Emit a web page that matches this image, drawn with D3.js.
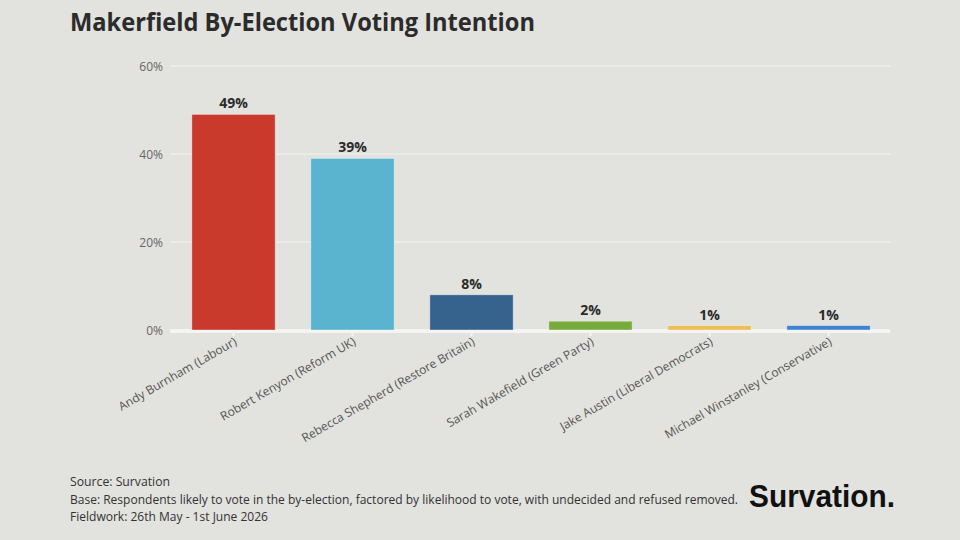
<!DOCTYPE html>
<html>
<head>
<meta charset="utf-8">
<script src="https://cdn.jsdelivr.net/npm/d3@7"></script>
<style>
  body { margin: 0; background: #e2e2de; }
  svg { display: block; }
</style>
</head>
<body>
<svg id="chart"></svg>
<script>
const WIDTH = 960;
const HEIGHT = 540;
const BG = "#e2e2de";

const candidates = [
  "Andy Burnham (Labour)",
  "Robert Kenyon (Reform UK)",
  "Rebecca Shepherd (Restore Britain)",
  "Sarah Wakefield (Green Party)",
  "Jake Austin (Liberal Democrats)",
  "Michael Winstanley (Conservative)"
];
const shares = [49, 39, 8, 2, 1, 1];
const partyColours = ["#c9392c", "#5ab4cf", "#35638e", "#79ab3c", "#efbd55", "#3f84d1"];
const yTicks = [0, 20, 40, 60];
const footerLines = [
  "Source: Survation",
  "Base: Respondents likely to vote in the by-election, factored by likelihood to vote, with undecided and refused removed.",
  "Fieldwork: 26th May - 1st June 2026"
];

const FONT = "'Open Sans', 'Noto Sans', sans-serif";

var svg = d3.select("#chart").attr("width", WIDTH).attr("height", HEIGHT);
svg.append("rect").attr("width", WIDTH).attr("height", HEIGHT).attr("fill", BG);

// title
svg.append("text")
  .attr("x", 70)
  .attr("y", 31)
  .attr("font-family", FONT)
  .attr("font-weight", 700)
  .attr("font-size", 25)
  .attr("fill", "#2b2b2b")
  .attr("textLength", 465)
  .attr("lengthAdjust", "spacingAndGlyphs")
  .text("Makerfield By-Election Voting Intention");

var x = d3.scaleBand()
  .domain(candidates)
  .range([174, 888])
  .paddingInner(0.3)
  .paddingOuter(0.15);

var y = d3.scaleLinear().domain([0, 60]).range([330, 66]);

// gridlines
svg.append("g")
  .selectAll("line")
  .data(yTicks.filter((d) => d > 0))
  .enter()
  .append("line")
  .attr("x1", 170)
  .attr("x2", 890)
  .attr("y1", (d) => y(d))
  .attr("y2", (d) => y(d))
  .attr("stroke", "#f2f2ef")
  .attr("stroke-width", 1);

// y tick labels
svg.append("g")
  .selectAll("text")
  .data(yTicks)
  .enter()
  .append("text")
  .attr("x", 163)
  .attr("y", (d) => y(d) + 1)
  .attr("dy", "0.35em")
  .attr("text-anchor", "end")
  .attr("font-family", FONT)
  .attr("font-size", 12)
  .attr("fill", "#666")
  .text((d) => d + "%");

// baseline
svg.append("line")
  .attr("x1", 170)
  .attr("x2", 890)
  .attr("y1", y(0) + 1)
  .attr("y2", y(0) + 1)
  .attr("stroke", "#f4f4f2")
  .attr("stroke-width", 4);

// x ticks
svg.append("g")
  .selectAll("line")
  .data(candidates)
  .enter()
  .append("line")
  .attr("x1", (d) => x(d) + x.bandwidth() / 2)
  .attr("x2", (d) => x(d) + x.bandwidth() / 2)
  .attr("y1", y(0) + 3)
  .attr("y2", y(0) + 6)
  .attr("stroke", "#f4f4f2")
  .attr("stroke-width", 2);

// bars
svg.append("g")
  .selectAll("rect")
  .data(candidates)
  .enter()
  .append("rect")
  .attr("x", (d) => x(d))
  .attr("y", (d, i) => y(shares[i]))
  .attr("width", x.bandwidth())
  .attr("height", (d, i) => y(0) - y(shares[i]))
  .attr("fill", (d, i) => partyColours[i])
  .attr("stroke", "rgba(255,255,255,0.45)")
  .attr("stroke-width", 0.8);

// value labels
svg.append("g")
  .selectAll("text")
  .data(candidates)
  .enter()
  .append("text")
  .attr("x", (d) => x(d) + x.bandwidth() / 2)
  .attr("y", (d, i) => y(shares[i]) - 6)
  .attr("text-anchor", "middle")
  .attr("font-family", FONT)
  .attr("font-weight", 700)
  .attr("font-size", 14)
  .attr("fill", "#2b2b2b")
  .text((d, i) => shares[i] + "%");

// x labels, rotated
svg.append("g")
  .selectAll("text")
  .data(candidates)
  .enter()
  .append("text")
  .attr("transform", (d) => "translate(" + (x(d) + x.bandwidth() / 2 + 4) + "," + (y(0) + 14) + ") rotate(-30)")
  .attr("text-anchor", "end")
  .attr("font-family", FONT)
  .attr("font-size", 12)
  .attr("fill", "#555")
  .text((d) => d);

// footer
svg.append("g")
  .selectAll("text")
  .data(footerLines)
  .enter()
  .append("text")
  .attr("x", 70)
  .attr("y", (d, i) => 486 + i * 17.5)
  .attr("font-family", FONT)
  .attr("font-size", 12.5)
  .attr("fill", "#333")
  .attr("textLength", (d, i) => [100, 668, 198][i])
  .attr("lengthAdjust", "spacingAndGlyphs")
  .text((d) => d);

// logo
svg.append("text")
  .attr("x", 749)
  .attr("y", 507)
  .attr("font-family", "'Liberation Sans', Arial, sans-serif")
  .attr("font-weight", 700)
  .attr("font-size", 32)
  .attr("fill", "#111")
  .attr("textLength", 146)
  .attr("lengthAdjust", "spacingAndGlyphs")
  .text("Survation.");
</script>
</body>
</html>
